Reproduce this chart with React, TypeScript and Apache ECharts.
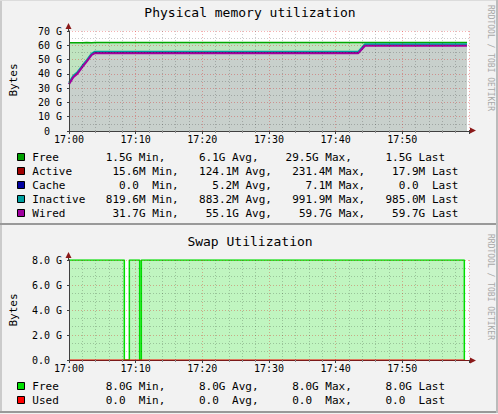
import React, { useEffect, useRef } from "react";
import * as echarts from "echarts";

// ---- data (values in GB, time in minutes after 17:00) ----
const minutes = [0, 0.65, 1.3, 2.05, 2.65, 3.4, 3.9, 43.4, 44.4, 59.7];
const wired = [32.7, 37.6, 40.3, 45.0, 48.5, 53.2, 54.5, 54.5, 59.7, 59.7];
const active = [0.23, 0.2, 0.18, 0.15, 0.12, 0.1, 0.1, 0.1, 0.02, 0.018];
const cache = [0.007, 0.006, 0.006, 0.005, 0.005, 0.005, 0.005, 0.005, 0, 0];
const inactive = [0.82, 0.85, 0.86, 0.87, 0.88, 0.88, 0.88, 0.88, 0.99, 0.985];
const free = [28.1, 23.1, 20.5, 15.8, 12.4, 7.6, 6.4, 6.4, 1.2, 1.2];

const swapMinutes = [0, 8.3, 8.3, 9.05, 9.05, 10.6, 10.6, 10.85, 10.85, 59.3, 59.3];
const swapFree = [8, 8, 0, 0, 8, 8, 0, 0, 8, 8, 0];
const swapUsedMinutes = [0, 59.3];
const swapUsed = [0, 0];

const xTickLabels = ["17:00", "17:10", "17:20", "17:30", "17:40", "17:50"];

const memTitle = "Physical memory utilization";
const swapTitle = "Swap Utilization";
const yName = "Bytes";
const watermark = "RRDTOOL / TOBI OETIKER";

const memLegendNames = ["Free", "Active", "Cache", "Inactive", "Wired"];
const memLegendColors = ["#00a000", "#a00000", "#0000a0", "#00a0a0", "#a000a0"];
const memLegendMin = ["1.5G", "15.6M", "0.0", "819.6M", "31.7G"];
const memLegendAvg = ["6.1G", "124.1M", "5.2M", "883.2M", "55.1G"];
const memLegendMax = ["29.5G", "231.4M", "7.1M", "991.9M", "59.7G"];
const memLegendLast = ["1.5G", "17.9M", "0.0", "985.0M", "59.7G"];
const memLegendShift = [-2, 0, 0, 0, 0];

const swapLegendNames = ["Free", "Used"];
const swapLegendColors = ["#00e000", "#ff0000"];
const swapLegendMin = ["8.0G", "0.0"];
const swapLegendAvg = ["8.0G", "0.0"];
const swapLegendMax = ["8.0G", "0.0"];
const swapLegendLast = ["8.0G", "0.0"];
const swapLegendShift = [-2, -2];

const statLabels = ["Min,", "Avg,", "Max,", "Last"];

const MONO = '"DejaVu Sans Mono", monospace';

function pairs(xs: number[], ys: number[]) {
  return xs.map((x, i) => [x, ys[i]]);
}

// stacked tops (wired at the bottom, then active, cache, inactive, free)
function stackTops(layers: number[][]) {
  const tops: number[][] = [];
  let acc = layers[0].map(() => 0);
  layers.forEach((l) => {
    acc = acc.map((a, i) => a + l[i]);
    tops.push(acc.slice());
  });
  return tops;
}

function legendGraphics(
  names: string[],
  colors: string[],
  cols: string[][],
  shifts: number[],
  y0: number
) {
  const out: any[] = [];
  const X0 = 32.3;
  const CW = 6.66;
  names.forEach((name, r) => {
    const y = y0 + r * 14;
    out.push({
      type: "rect",
      shape: { x: 17.5, y: y - 3.5, width: 7, height: 7 },
      style: { fill: colors[r], stroke: "#000", lineWidth: 1 },
    });
    out.push({
      type: "text",
      x: X0,
      y,
      style: { text: name, fontFamily: MONO, fontSize: 11, fill: "#000", textAlign: "left", textVerticalAlign: "middle" },
    });
    const ends = [17, 31, 45, 59];
    cols.forEach((col, c) => {
      const v = col[r];
      const hasSuffix = /[A-Za-z]$/.test(v);
      const end = ends[c] + shifts[r] - (hasSuffix ? 0 : 1);
      out.push({
        type: "text",
        x: X0 + end * CW,
        y,
        style: { text: v, fontFamily: MONO, fontSize: 11, fill: "#000", textAlign: "right", textVerticalAlign: "middle" },
      });
      out.push({
        type: "text",
        x: X0 + (ends[c] + 1 + shifts[r]) * CW,
        y,
        style: { text: statLabels[c], fontFamily: MONO, fontSize: 11, fill: "#000", textAlign: "left", textVerticalAlign: "middle" },
      });
    });
  });
  return out;
}

export default function App() {
  const ref = useRef<HTMLDivElement>(null);

  useEffect(() => {
    document.body.style.margin = "0";
    const chart = echarts.init(ref.current!, null, { renderer: "svg" });

    const [wiredTop, activeTop, cacheTop, inactiveTop, freeTop] = stackTops([
      wired,
      active,
      cache,
      inactive,
      free,
    ]);

    const majorGrid = { show: true, lineStyle: { color: "rgba(220,0,0,0.3)", type: [1, 2], width: 1 } };
    const minorGrid = { show: true, lineStyle: { color: "rgba(0,0,0,0.2)", type: [1, 2], width: 1 } };

    const xAxisBase = (gridIndex: number, lineColor: string) => ({
      type: "value",
      gridIndex,
      min: 0,
      max: 60,
      interval: 10,
      z: 5,
      axisLine: { show: true, lineStyle: { color: lineColor, width: 1 } },
      axisTick: { show: true, length: 3, lineStyle: { color: "#404040" } },
      minorTick: { show: true, splitNumber: 5, length: 2, lineStyle: { color: "#909090" } },
      splitLine: majorGrid,
      minorSplitLine: minorGrid,
      axisLabel: {
        show: true,
        margin: 3,
        fontFamily: MONO,
        fontSize: 10,
        color: "#000",
        showMaxLabel: false,
        formatter: (v: number) => xTickLabels[Math.round(v / 10)] ?? "",
      },
    });

    const memArea = { color: "#c8d0cc", opacity: 1 };
    const zeroRich = { z: { padding: [0, 12, 0, 0], fontFamily: MONO, fontSize: 10, color: "#000" } };

    const memSeries = (
      name: string,
      data: number[],
      color: string,
      width: number,
      area: any,
      z: number
    ) => ({
      name,
      type: "line",
      xAxisIndex: 0,
      yAxisIndex: 0,
      z,
      data: pairs(minutes, data),
      showSymbol: false,
      symbol: "none",
      lineStyle: { color, width },
      areaStyle: area,
      silent: true,
    });

    const option: any = {
      animation: false,
      backgroundColor: "#f2f2f2",
      grid: [
        { left: 69, top: 31, width: 400, height: 100, show: true, backgroundColor: "#ffffff", borderWidth: 0 },
        { left: 69, top: 260, width: 400, height: 100, show: true, backgroundColor: "#ffffff", borderWidth: 0 },
      ],
      xAxis: [xAxisBase(0, "#404040"), xAxisBase(1, "#7a1a1a")],
      yAxis: [
        {
          type: "value",
          gridIndex: 0,
          min: 0,
          max: 70,
          interval: 10,
          z: 5,
          axisLine: { show: true, lineStyle: { color: "#404040" } },
          axisTick: { show: true, length: 2, lineStyle: { color: "#404040" } },
          minorTick: { show: false, splitNumber: 2 },
          splitLine: majorGrid,
          minorSplitLine: minorGrid,
          axisLabel: {
            margin: 7,
            fontFamily: MONO,
            fontSize: 10,
            color: "#000",
            formatter: (v: number) => (v === 0 ? "{z|0}" : `${v} G`),
            rich: zeroRich,
          },
        },
        {
          type: "value",
          gridIndex: 1,
          min: 0,
          max: 8,
          interval: 2,
          z: 5,
          axisLine: { show: true, lineStyle: { color: "#404040" } },
          axisTick: { show: true, length: 2, lineStyle: { color: "#404040" } },
          minorTick: { show: false, splitNumber: 3 },
          splitLine: majorGrid,
          minorSplitLine: minorGrid,
          axisLabel: {
            margin: 7,
            fontFamily: MONO,
            fontSize: 10,
            color: "#000",
            formatter: (v: number) => (v === 0 ? "{z|0.0}" : `${v.toFixed(1)} G`),
            rich: zeroRich,
          },
        },
      ],
      series: [
        memSeries("Free", freeTop, "#00aa00", 1.5, { color: "#c0e4c0", opacity: 1 }, 2),
        memSeries("Inactive", inactiveTop, "#00a0a0", 2, memArea, 2),
        memSeries("Cache", cacheTop, "#0000a0", 1, memArea, 2),
        memSeries("Active", activeTop, "#a00000", 1, memArea, 2),
        memSeries("Wired", wiredTop, "#a000a0", 2, memArea, 3),
        {
          name: "Swap Free", type: "line", xAxisIndex: 1, yAxisIndex: 1, z: 2,
          data: pairs(swapMinutes, swapFree), showSymbol: false, symbol: "none",
          lineStyle: { color: "#00dd00", width: 1.5 }, areaStyle: { color: "#c0f5c0", opacity: 1 }, silent: true,
        },
        {
          name: "Swap Used", type: "line", xAxisIndex: 1, yAxisIndex: 1, z: 2,
          data: pairs(swapUsedMinutes, swapUsed), showSymbol: false, symbol: "none",
          lineStyle: { color: "#ff0000", width: 1 }, silent: true,
        },
      ],
      graphic: [
        // panel borders
        { type: "rect", shape: { x: 0, y: 0, width: 2, height: 225 }, style: { fill: "#cbcbcb" } },
        { type: "rect", shape: { x: 0, y: 0, width: 498, height: 1 }, style: { fill: "#dcdcdc" } },
        { type: "rect", shape: { x: 0, y: 223, width: 498, height: 2 }, style: { fill: "#999999" } },
        { type: "rect", shape: { x: 496, y: 0, width: 2, height: 225 }, style: { fill: "#bbbbbb" } },
        { type: "rect", shape: { x: 0, y: 225, width: 2, height: 188 }, style: { fill: "#cbcbcb" } },
        { type: "rect", shape: { x: 0, y: 411, width: 498, height: 2 }, style: { fill: "#999999" } },
        { type: "rect", shape: { x: 496, y: 225, width: 2, height: 188 }, style: { fill: "#bbbbbb" } },
        // titles
        {
          type: "text", x: 250, y: 12,
          style: { text: memTitle, fontFamily: MONO, fontSize: 13, fill: "#000", textAlign: "center", textVerticalAlign: "middle" },
        },
        {
          type: "text", x: 250, y: 241,
          style: { text: swapTitle, fontFamily: MONO, fontSize: 13, fill: "#000", textAlign: "center", textVerticalAlign: "middle" },
        },
        // y axis names
        {
          type: "text", x: 13, y: 80, rotation: Math.PI / 2,
          style: { text: yName, fontFamily: MONO, fontSize: 11, fill: "#000", textAlign: "center", textVerticalAlign: "middle" },
        },
        {
          type: "text", x: 13, y: 310, rotation: Math.PI / 2,
          style: { text: yName, fontFamily: MONO, fontSize: 11, fill: "#000", textAlign: "center", textVerticalAlign: "middle" },
        },
        // watermarks
        {
          type: "text", x: 490, y: 58, rotation: -Math.PI / 2,
          style: { text: watermark, fontFamily: MONO, fontSize: 8, fill: "#a8a8a8", textAlign: "center", textVerticalAlign: "middle" },
        },
        {
          type: "text", x: 490, y: 287, rotation: -Math.PI / 2,
          style: { text: watermark, fontFamily: MONO, fontSize: 8, fill: "#a8a8a8", textAlign: "center", textVerticalAlign: "middle" },
        },
        // axis arrows
        { type: "line", shape: { x1: 68.5, y1: 31, x2: 68.5, y2: 27 }, style: { stroke: "#404040", lineWidth: 1 } },
        { type: "polygon", shape: { points: [[65.5, 29], [71.5, 29], [68.5, 23]] }, style: { fill: "#8b1a1a" } },
        { type: "line", shape: { x1: 469, y1: 130.5, x2: 472, y2: 130.5 }, style: { stroke: "#404040", lineWidth: 1 } },
        { type: "polygon", shape: { points: [[470, 127.5], [470, 133.5], [476, 130.5]] }, style: { fill: "#8b1a1a" } },
        { type: "line", shape: { x1: 68.5, y1: 260, x2: 68.5, y2: 256 }, style: { stroke: "#404040", lineWidth: 1 } },
        { type: "polygon", shape: { points: [[65.5, 258], [71.5, 258], [68.5, 252]] }, style: { fill: "#8b1a1a" } },
        { type: "line", shape: { x1: 469, y1: 360.5, x2: 472, y2: 360.5 }, style: { stroke: "#7a1a1a", lineWidth: 1 } },
        { type: "polygon", shape: { points: [[470, 357.5], [470, 363.5], [476, 360.5]] }, style: { fill: "#8b1a1a" } },
        // legends
        ...legendGraphics(
          memLegendNames,
          memLegendColors,
          [memLegendMin, memLegendAvg, memLegendMax, memLegendLast],
          memLegendShift,
          157
        ),
        ...legendGraphics(
          swapLegendNames,
          swapLegendColors,
          [swapLegendMin, swapLegendAvg, swapLegendMax, swapLegendLast],
          swapLegendShift,
          386
        ),
      ],
    };

    chart.setOption(option);
    return () => chart.dispose();
  }, []);

  return (
    <div
      ref={ref}
      style={{ position: "absolute", left: 0, top: 0, width: 498, height: 414 }}
    />
  );
}
